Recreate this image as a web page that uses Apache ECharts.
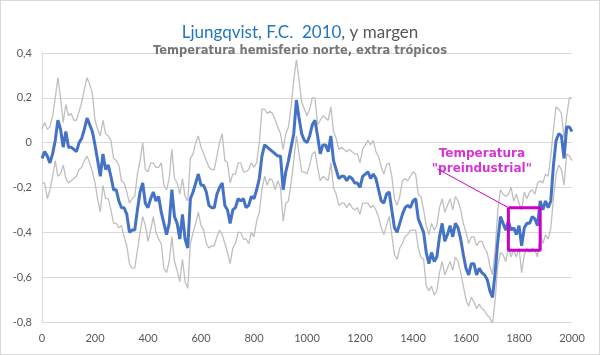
<!DOCTYPE html>
<html>
<head>
<meta charset="utf-8">
<script src="https://cdn.jsdelivr.net/npm/echarts@6/dist/echarts.min.js"></script>
<style>
html,body{margin:0;padding:0;background:#fff;}
#c{width:598px;height:353px;border:1px solid #D9D9D9;}
</style>
</head>
<body>
<div id="c"></div>
<script>
// Years 0..2000 step 10
const years = [];
for (let y = 0; y <= 2000; y += 10) years.push(y);

const mainSeries = [
 -0.07,-0.04,-0.06,-0.09,-0.05,0.01,0.10,0.06,-0.02,0.05,
 -0.02,-0.02,-0.03,-0.04,0.00,0.02,0.06,0.11,0.08,0.05,
 -0.01,-0.08,-0.15,-0.05,-0.12,-0.10,-0.15,-0.21,-0.21,-0.26,
 -0.29,-0.29,-0.32,-0.40,-0.39,-0.39,-0.30,-0.22,-0.18,-0.27,
 -0.29,-0.25,-0.22,-0.26,-0.24,-0.31,-0.36,-0.41,-0.36,-0.21,
 -0.33,-0.36,-0.43,-0.32,-0.43,-0.47,-0.25,-0.22,-0.18,-0.14,
 -0.19,-0.19,-0.22,-0.28,-0.29,-0.29,-0.23,-0.20,-0.18,-0.28,
 -0.30,-0.36,-0.30,-0.29,-0.25,-0.26,-0.25,-0.29,-0.28,-0.24,
 -0.25,-0.21,-0.16,-0.06,-0.01,-0.02,-0.03,-0.04,-0.05,-0.06,
 -0.06,-0.21,-0.13,-0.08,-0.02,0.04,0.19,0.11,0.04,0.01,
 0.00,0.03,0.08,0.10,0.03,-0.05,-0.01,-0.01,-0.04,0.03,
 -0.08,-0.12,-0.16,-0.15,-0.15,-0.17,-0.15,-0.16,-0.18,-0.18,
 -0.20,-0.15,-0.14,-0.13,-0.16,-0.14,-0.16,-0.21,-0.26,-0.27,
 -0.23,-0.22,-0.30,-0.38,-0.40,-0.36,-0.32,-0.29,-0.28,-0.29,
 -0.26,-0.25,-0.34,-0.37,-0.40,-0.49,-0.54,-0.49,-0.53,-0.51,
 -0.42,-0.36,-0.44,-0.41,-0.37,-0.42,-0.36,-0.38,-0.43,-0.50,
 -0.56,-0.59,-0.54,-0.54,-0.59,-0.56,-0.58,-0.59,-0.61,-0.66,
 -0.69,-0.58,-0.44,-0.33,-0.36,-0.39,-0.35,-0.39,-0.38,-0.41,
 -0.37,-0.46,-0.38,-0.36,-0.36,-0.33,-0.34,-0.37,-0.26,-0.30,
 -0.26,-0.29,-0.26,-0.10,0.01,0.04,0.03,-0.07,0.07,0.07,
 0.05
];

const upperMargin = [
 0.06,0.09,0.06,0.07,0.12,0.20,0.29,0.20,0.09,0.17,
 0.12,0.13,0.10,0.10,0.14,0.18,0.24,0.29,0.26,0.22,
 0.10,0.06,0.03,0.10,0.04,0.03,0.01,-0.07,-0.08,-0.10,
 -0.17,-0.18,-0.22,-0.27,-0.25,-0.24,-0.14,-0.08,0.00,-0.12,
 -0.13,-0.09,-0.09,-0.11,-0.11,-0.09,-0.19,-0.21,-0.16,-0.03,
 -0.16,-0.18,-0.23,-0.16,-0.24,-0.26,-0.07,-0.05,0.00,0.03,
 -0.02,-0.05,-0.08,-0.11,-0.12,-0.12,-0.06,0.00,0.04,-0.08,
 -0.09,-0.18,-0.14,-0.14,-0.09,-0.09,-0.13,-0.13,-0.12,-0.09,
 -0.11,-0.09,0.00,0.15,0.15,0.13,0.14,0.13,0.10,0.07,
 0.04,-0.03,0.04,0.07,0.16,0.28,0.37,0.28,0.18,0.15,
 0.12,0.15,0.20,0.20,0.08,0.10,0.12,0.11,0.10,0.16,
 0.05,0.02,-0.03,-0.02,-0.03,-0.04,-0.03,-0.04,-0.05,-0.05,
 -0.09,-0.03,-0.01,0.01,-0.01,0.01,-0.04,-0.06,-0.11,-0.14,
 -0.10,-0.09,-0.15,-0.25,-0.28,-0.24,-0.17,-0.16,-0.17,-0.15,
 -0.13,-0.14,-0.23,-0.24,-0.30,-0.37,-0.41,-0.36,-0.39,-0.37,
 -0.29,-0.25,-0.31,-0.28,-0.25,-0.30,-0.24,-0.26,-0.30,-0.36,
 -0.40,-0.45,-0.42,-0.42,-0.46,-0.44,-0.44,-0.47,-0.49,-0.55,
 -0.59,-0.48,-0.30,-0.21,-0.23,-0.24,-0.23,-0.20,-0.26,-0.23,
 -0.27,-0.30,-0.22,-0.25,-0.22,-0.21,-0.23,-0.18,-0.17,-0.18,
 -0.14,-0.15,-0.06,0.06,0.16,0.15,0.13,0.02,0.12,0.20,
 0.20
];

const lowerMargin = [
 -0.18,-0.18,-0.25,-0.21,-0.15,-0.08,-0.15,-0.14,-0.10,-0.16,
 -0.18,-0.17,-0.16,-0.15,-0.12,-0.11,-0.08,-0.06,-0.09,-0.13,
 -0.18,-0.25,-0.31,-0.19,-0.25,-0.25,-0.30,-0.36,-0.36,-0.38,
 -0.37,-0.42,-0.46,-0.54,-0.56,-0.56,-0.48,-0.40,-0.33,-0.37,
 -0.44,-0.39,-0.33,-0.40,-0.43,-0.45,-0.56,-0.58,-0.53,-0.42,
 -0.53,-0.57,-0.62,-0.52,-0.62,-0.65,-0.45,-0.40,-0.36,-0.31,
 -0.37,-0.39,-0.45,-0.47,-0.46,-0.46,-0.42,-0.39,-0.41,-0.45,
 -0.49,-0.54,-0.47,-0.45,-0.40,-0.40,-0.43,-0.43,-0.45,-0.40,
 -0.42,-0.35,-0.31,-0.21,-0.15,-0.19,-0.16,-0.17,-0.21,-0.17,
 -0.20,-0.35,-0.27,-0.26,-0.18,-0.08,0.03,-0.05,-0.13,-0.13,
 -0.14,-0.10,-0.05,-0.04,-0.11,-0.17,-0.15,-0.16,-0.17,-0.09,
 -0.20,-0.23,-0.28,-0.27,-0.27,-0.29,-0.27,-0.29,-0.30,-0.29,
 -0.32,-0.27,-0.27,-0.27,-0.29,-0.28,-0.30,-0.33,-0.38,-0.41,
 -0.37,-0.33,-0.41,-0.50,-0.52,-0.47,-0.45,-0.42,-0.41,-0.39,
 -0.39,-0.39,-0.47,-0.51,-0.52,-0.64,-0.66,-0.64,-0.68,-0.66,
 -0.58,-0.53,-0.59,-0.56,-0.53,-0.57,-0.51,-0.53,-0.58,-0.64,
 -0.70,-0.73,-0.69,-0.71,-0.74,-0.72,-0.74,-0.75,-0.77,-0.78,
 -0.81,-0.70,-0.55,-0.49,-0.50,-0.53,-0.47,-0.51,-0.48,-0.51,
 -0.47,-0.58,-0.50,-0.47,-0.49,-0.47,-0.48,-0.51,-0.40,-0.45,
 -0.41,-0.43,-0.38,-0.25,-0.14,-0.10,-0.12,-0.19,-0.05,-0.06,
 -0.08
];

// "Preindustrial" box and callout (data coordinates)
const boxYears = [1760, 1880];
const boxTemps = [-0.29, -0.48];
const calloutStart = [1492, -0.117];
const calloutText = [1660, -0.084];
const xTicks = {min: 0, max: 2000, step: 200};
const yTicks = {min: -0.8, max: 0.4, step: 0.2};

const zip = (a) => years.map((y, i) => [y, a[i]]);
const boxPath = [
  [boxYears[0], boxTemps[0]], [boxYears[1], boxTemps[0]],
  [boxYears[1], boxTemps[1]], [boxYears[0], boxTemps[1]],
  [boxYears[0], boxTemps[0]]
];
const MAG = '#CC00CC';

const chart = echarts.init(document.getElementById('c'));
chart.setOption({
  animation: false,
  backgroundColor: '#ffffff',
  title: [
    {
      text: '{a|Ljungqvist, F.C.  2010}{b|, y margen}',
      left: 'center', top: 18,
      textStyle: {
        fontWeight: 'normal',
        rich: {
          a: {color: '#1F75C4', fontSize: 17, fontFamily: 'Lato', fontWeight: 'normal'},
          b: {color: '#595959', fontSize: 17, fontFamily: 'Lato', fontWeight: 'normal'}
        }
      }
    },
    {
      text: 'Temperatura hemisferio norte, extra trópicos',
      left: 'center', top: 39,
      textStyle: {color: '#757575', fontSize: 11.5, fontWeight: 'bold', fontFamily: 'DejaVu Sans'}
    }
  ],
  grid: {left: 41, right: 27, top: 52, bottom: 32},
  xAxis: {
    type: 'value', min: xTicks.min, max: xTicks.max, interval: xTicks.step,
    axisLine: {show: true, lineStyle: {color: '#D9D9D9'}},
    axisTick: {show: false},
    splitLine: {show: false},
    axisLabel: {color: '#595959', fontSize: 11, fontFamily: 'Lato', margin: 11,
      formatter: (v) => String(v)}
  },
  yAxis: {
    type: 'value', min: yTicks.min, max: yTicks.max, interval: yTicks.step,
    axisLine: {show: true, lineStyle: {color: '#D9D9D9'}},
    axisTick: {show: false},
    splitLine: {show: true, lineStyle: {color: '#D9D9D9'}},
    axisLabel: {
      color: '#595959', fontSize: 11, fontFamily: 'Lato', margin: 10,
      formatter: (v) => String(Math.round(v * 10) / 10).replace('.', ',')
    }
  },
  series: [
    {type: 'line', data: zip(upperMargin), symbol: 'none', lineStyle: {color: '#BFBFBF', width: 1.3}, z: 2},
    {type: 'line', data: zip(lowerMargin), symbol: 'none', lineStyle: {color: '#BFBFBF', width: 1.3}, z: 2},
    {type: 'line', data: zip(mainSeries), symbol: 'none', lineStyle: {color: '#4472C4', width: 3}, z: 3},
    {type: 'line', data: boxPath, symbol: 'none', lineStyle: {color: MAG, width: 3}, z: 4},
    {type: 'line', data: [calloutStart, [boxYears[0], boxTemps[0]]], symbol: 'none', lineStyle: {color: MAG, width: 1}, z: 4},
    {
      type: 'scatter', data: [calloutText], symbolSize: 0, z: 5,
      label: {
        show: true, position: 'inside',
        formatter: 'Temperatura\n"preindustrial"',
        color: MAG, fontSize: 12, fontWeight: 'bold', fontFamily: 'DejaVu Sans',
        lineHeight: 15, align: 'center'
      }
    }
  ]
});
</script>
</body>
</html>
